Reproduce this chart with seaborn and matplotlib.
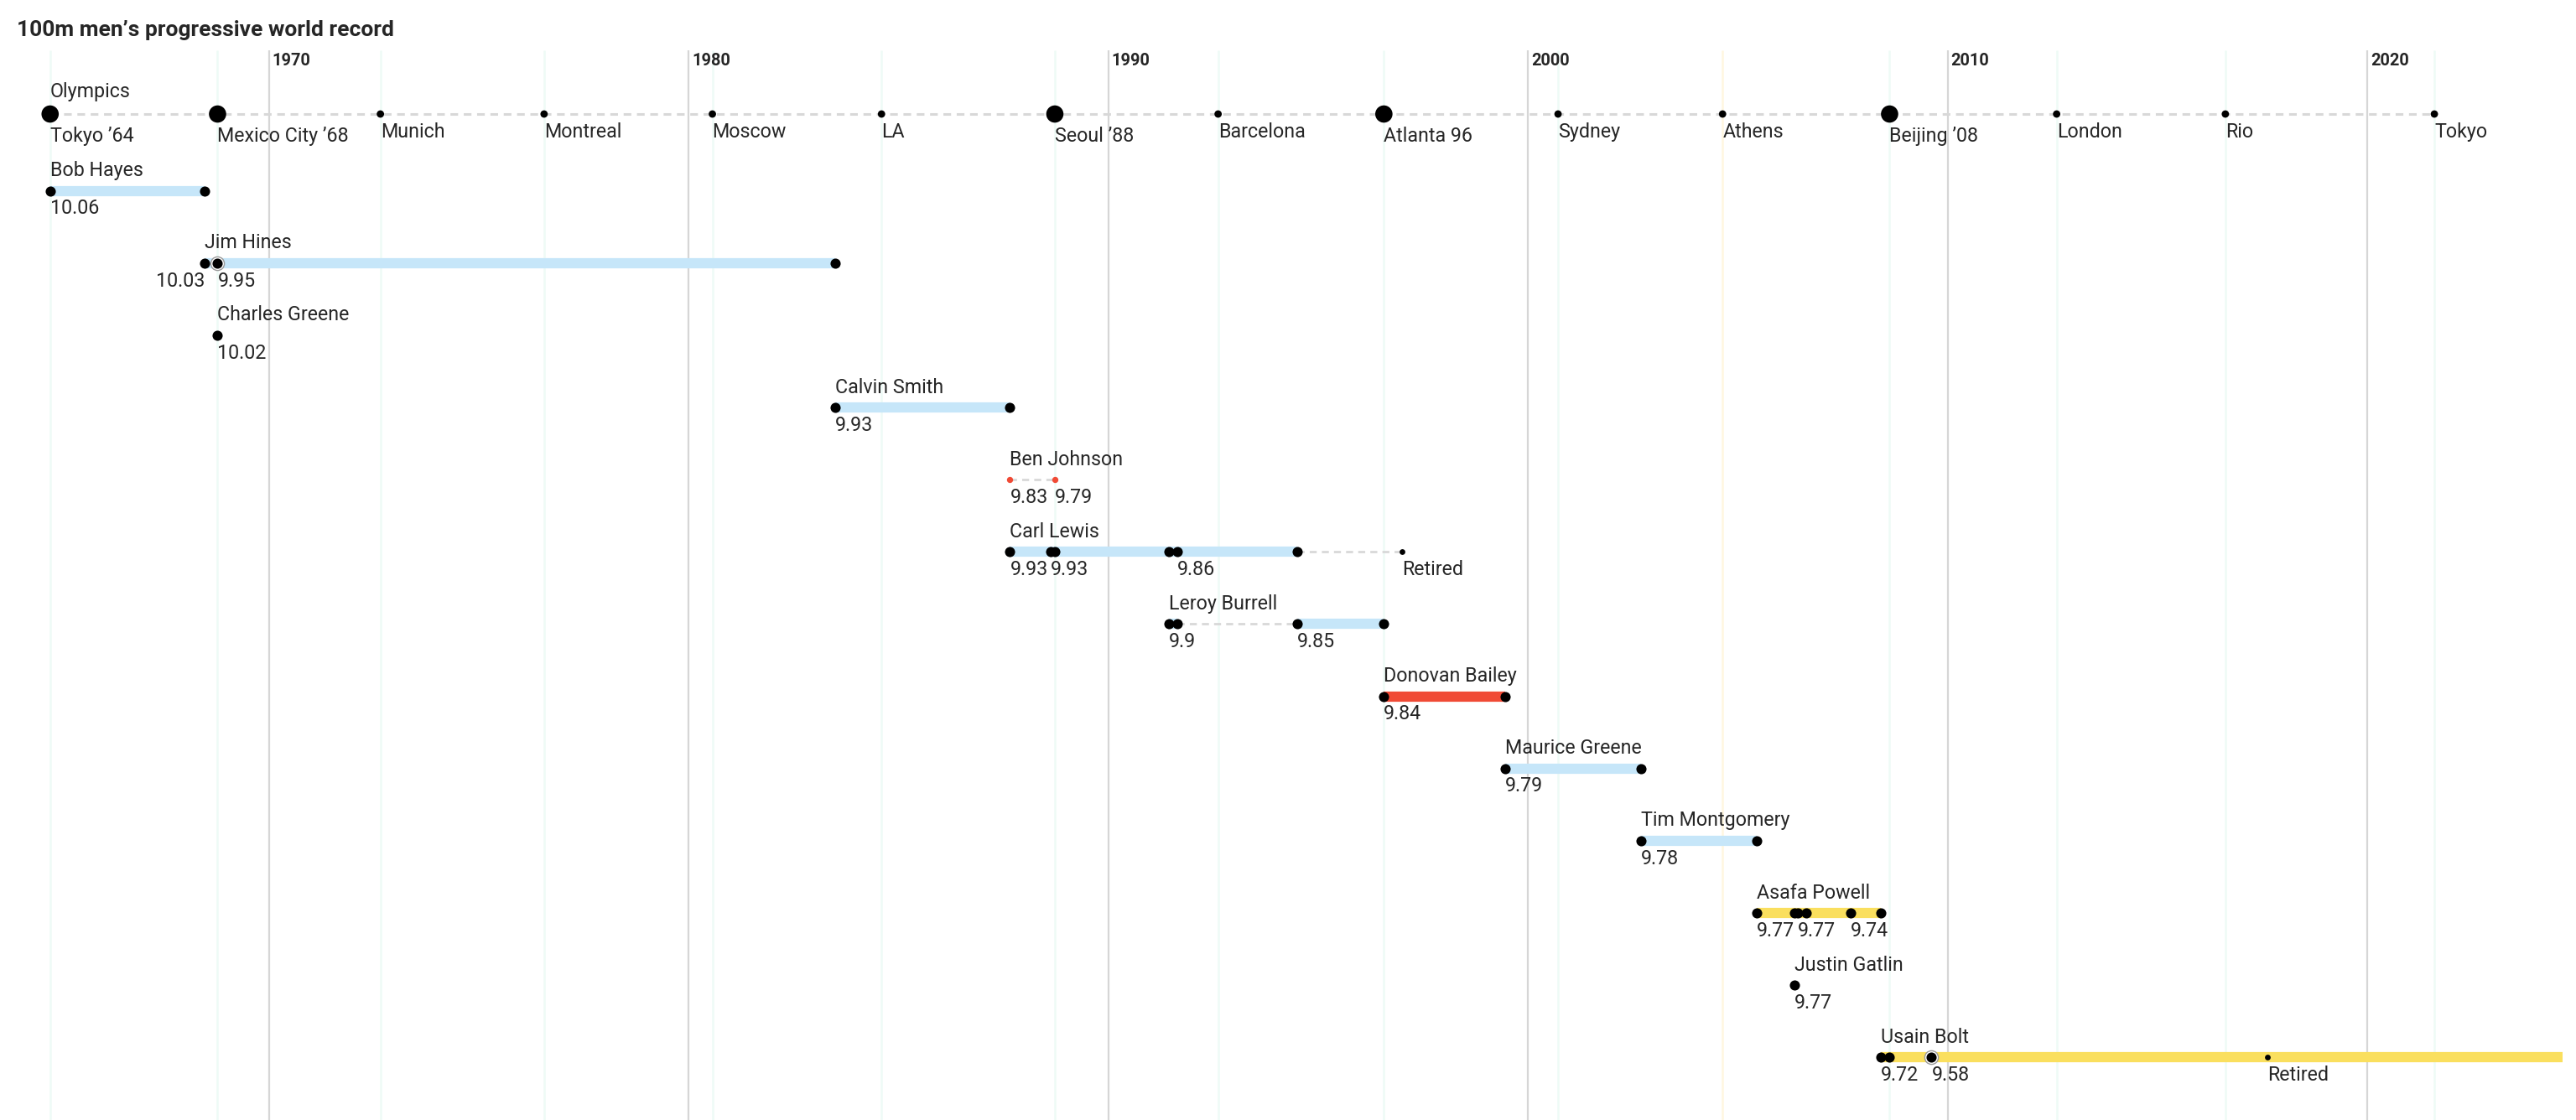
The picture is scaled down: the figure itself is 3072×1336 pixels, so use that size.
import matplotlib
matplotlib.use("Agg")
import matplotlib.pyplot as plt
import seaborn as sns
import pandas as pd

# -----------------------------------
# data
# -----------------------------------
olympic_names = ["Tokyo \u201964", "Mexico City \u201968", "Munich", "Montreal", "Moscow", "LA",
                 "Seoul \u201988", "Barcelona", "Atlanta 96", "Sydney", "Athens",
                 "Beijing \u201908", "London", "Rio", "Tokyo"]
olympic_dates = [1964.79, 1968.78, 1972.66, 1976.56, 1980.57, 1984.60, 1988.73, 1992.62,
                 1996.57, 2000.72, 2004.64, 2008.62, 2012.60, 2016.62, 2021.60]
olympic_record = [True, True, False, False, False, False, True, False,
                  True, False, False, True, False, False, False]

athletes = ["Bob Hayes", "Jim Hines", "Charles Greene", "Calvin Smith", "Ben Johnson",
            "Carl Lewis", "Leroy Burrell", "Donovan Bailey", "Maurice Greene",
            "Tim Montgomery", "Asafa Powell", "Justin Gatlin", "Usain Bolt"]
athlete_nation = ["USA", "USA", "USA", "USA", "CAN", "USA", "USA", "CAN", "USA",
                  "USA", "JAM", "USA", "JAM"]
nation_colors = {"USA": "#c6e6f9", "CAN": "#f04a35", "JAM": "#fadf5e"}

# periods as record holder
bar_athlete = ["Bob Hayes", "Jim Hines", "Calvin Smith", "Carl Lewis", "Leroy Burrell",
               "Leroy Burrell", "Donovan Bailey", "Maurice Greene", "Tim Montgomery",
               "Asafa Powell", "Usain Bolt"]
bar_start = [1964.79, 1968.47, 1983.50, 1987.66, 1991.45, 1994.51, 1996.57, 1999.46,
             2002.70, 2005.45, 2008.41]
bar_end = [1968.47, 1983.50, 1987.66, 1994.51, 1991.65, 1996.57, 1999.46, 2002.70,
           2005.45, 2008.41, 2024.65]

# dashed connectors
dash_athlete = ["Ben Johnson", "Leroy Burrell", "Carl Lewis"]
dash_start = [1987.66, 1991.65, 1994.51]
dash_end = [1988.73, 1994.51, 1997.00]

# record marks
dot_athlete = ["Bob Hayes", "Bob Hayes",
               "Jim Hines", "Jim Hines", "Jim Hines",
               "Charles Greene",
               "Calvin Smith", "Calvin Smith",
               "Ben Johnson", "Ben Johnson",
               "Carl Lewis", "Carl Lewis", "Carl Lewis", "Carl Lewis", "Carl Lewis",
               "Carl Lewis", "Carl Lewis",
               "Leroy Burrell", "Leroy Burrell", "Leroy Burrell", "Leroy Burrell",
               "Donovan Bailey", "Donovan Bailey",
               "Maurice Greene", "Maurice Greene",
               "Tim Montgomery", "Tim Montgomery",
               "Asafa Powell", "Asafa Powell", "Asafa Powell", "Asafa Powell",
               "Asafa Powell", "Asafa Powell",
               "Justin Gatlin",
               "Usain Bolt", "Usain Bolt", "Usain Bolt", "Usain Bolt"]
dot_date = [1964.79, 1968.47,
            1968.47, 1968.78, 1983.50,
            1968.78,
            1983.50, 1987.66,
            1987.66, 1988.73,
            1987.66, 1988.63, 1988.73, 1991.45, 1991.65, 1994.51, 1997.00,
            1991.45, 1991.65, 1994.51, 1996.57,
            1996.57, 1999.46,
            1999.46, 2002.70,
            2002.70, 2005.45,
            2005.45, 2006.36, 2006.44, 2006.63, 2007.69, 2008.41,
            2006.36,
            2008.41, 2008.62, 2009.62, 2017.62]
dot_label = ["10.06", "",
             "10.03", "9.95", "",
             "10.02",
             "9.93", "",
             "9.83", "9.79",
             "9.93", "9.93", "", "", "9.86", "", "Retired",
             "9.9", "", "9.85", "",
             "9.84", "",
             "9.79", "",
             "9.78", "",
             "9.77", "", "9.77", "", "9.74", "",
             "9.77",
             "9.72", "", "9.58", "Retired"]
dot_kind = ["n", "n",
            "n", "ring", "n",
            "n",
            "n", "n",
            "red", "red",
            "n", "n", "n", "n", "n", "n", "small",
            "n", "n", "n", "n",
            "n", "n",
            "n", "n",
            "n", "n",
            "n", "n", "n", "n", "n", "n",
            "n",
            "n", "n", "ring", "small"]
right_aligned = ["10.03"]

decades = [1970, 1980, 1990, 2000, 2010, 2020]

# -----------------------------------
# tables
# -----------------------------------
OLY_ROW = -0.064
row_of = {name: i + 1 for i, name in enumerate(athletes)}
nation_of = dict(zip(athletes, athlete_nation))

olympics = pd.DataFrame({"name": olympic_names, "date": olympic_dates,
                         "big": olympic_record})
olympics["row"] = OLY_ROW
bars = pd.DataFrame({"athlete": bar_athlete, "start": bar_start, "end": bar_end})
bars["row"] = bars["athlete"].map(row_of)
dashes = pd.DataFrame({"athlete": dash_athlete, "start": dash_start, "end": dash_end})
dashes["row"] = dashes["athlete"].map(row_of)
dots = pd.DataFrame({"athlete": dot_athlete, "date": dot_date, "label": dot_label,
                     "kind": dot_kind})
dots["row"] = dots["athlete"].map(row_of)

# -----------------------------------
# figure
# -----------------------------------
sns.set_theme(style="white")
plt.rcParams["font.family"] = ["Roboto", "DejaVu Sans"]
FS = 8.4

fig = plt.figure(figsize=(15.36, 6.68), dpi=200)
ax = fig.add_axes([0, 0, 1, 1])
ax.set_xlim(1963.596, 2024.975)
ax.set_ylim(13.867, -1.643)
ax.axis("off")

grid_top = -0.95
# olympic and decade guide lines
for d, n in zip(olympics["date"], olympics["name"]):
    c = "#fff7e0" if n == "Athens" else "#eefbf6"
    ax.vlines(d, grid_top, 14, color=c, lw=0.9, zorder=0)
ax.vlines(decades, grid_top, 14, color="#d6d6d6", lw=0.8, zorder=0)
for d in decades:
    ax.annotate(str(d), (d, -0.80), xytext=(1.5, 0), textcoords="offset points",
                ha="left", va="center", fontsize=7.2, fontweight="bold")

# olympics row
ax.plot([olympics["date"].min(), olympics["date"].max()], [OLY_ROW, OLY_ROW],
        color="#d8d8d8", lw=1.1, ls=(0, (3, 2.2)), zorder=1)
sns.scatterplot(data=olympics, x="date", y="row", size="big", sizes={True: 55, False: 10},
                color="black", linewidth=0, legend=False, ax=ax, zorder=3)
for _, r in olympics.iterrows():
    off = -5.5 if r["big"] else -3.5
    ax.annotate(r["name"], (r["date"], OLY_ROW), xytext=(0, off),
                textcoords="offset points", ha="left", va="top", fontsize=FS)
ax.annotate("Olympics", (olympics["date"].iloc[0], OLY_ROW), xytext=(0, 5.5),
            textcoords="offset points", ha="left", va="bottom", fontsize=FS)

# record periods
for _, b in bars.iterrows():
    ax.plot([b["start"], b["end"]], [b["row"], b["row"]],
            color=nation_colors[nation_of[b["athlete"]]], lw=4.4,
            solid_capstyle="butt", zorder=1)
for _, b in dashes.iterrows():
    ax.plot([b["start"], b["end"]], [b["row"], b["row"]], color="#d8d8d8",
            lw=1.0, ls=(0, (3, 2.2)), zorder=1)

# dots
rings = dots[dots["kind"] == "ring"]
sns.scatterplot(data=rings, x="date", y="row", s=34, facecolor="white",
                edgecolor="#9a9a9a", linewidth=0.5, legend=False, ax=ax, zorder=2)
normal = dots[dots["kind"].isin(["n", "ring"])]
sns.scatterplot(data=normal, x="date", y="row", s=19, color="black", linewidth=0,
                legend=False, ax=ax, zorder=3)
small = dots[dots["kind"] == "small"]
sns.scatterplot(data=small, x="date", y="row", s=6, color="black", linewidth=0,
                legend=False, ax=ax, zorder=3)
red = dots[dots["kind"] == "red"]
sns.scatterplot(data=red, x="date", y="row", s=7, color=nation_colors["CAN"],
                linewidth=0, legend=False, ax=ax, zorder=3)

# labels
for _, d in dots.iterrows():
    if d["label"] == "":
        continue
    ha = "right" if d["label"] in right_aligned else "left"
    ax.annotate(d["label"], (d["date"], d["row"]), xytext=(0, -3.5),
                textcoords="offset points", ha=ha, va="top", fontsize=FS)
for name in athletes:
    first = dots.loc[dots["athlete"] == name, "date"].min()
    ax.annotate(name, (first, row_of[name]), xytext=(0, 4.5), textcoords="offset points",
                ha="left", va="bottom", fontsize=FS)

fig.text(20 / 3072, 1 - 36 / 1336, "100m men\u2019s progressive world record",
         ha="left", va="center", fontsize=9.5, fontweight="bold")

fig.savefig("out.png", dpi=200, facecolor="white")
